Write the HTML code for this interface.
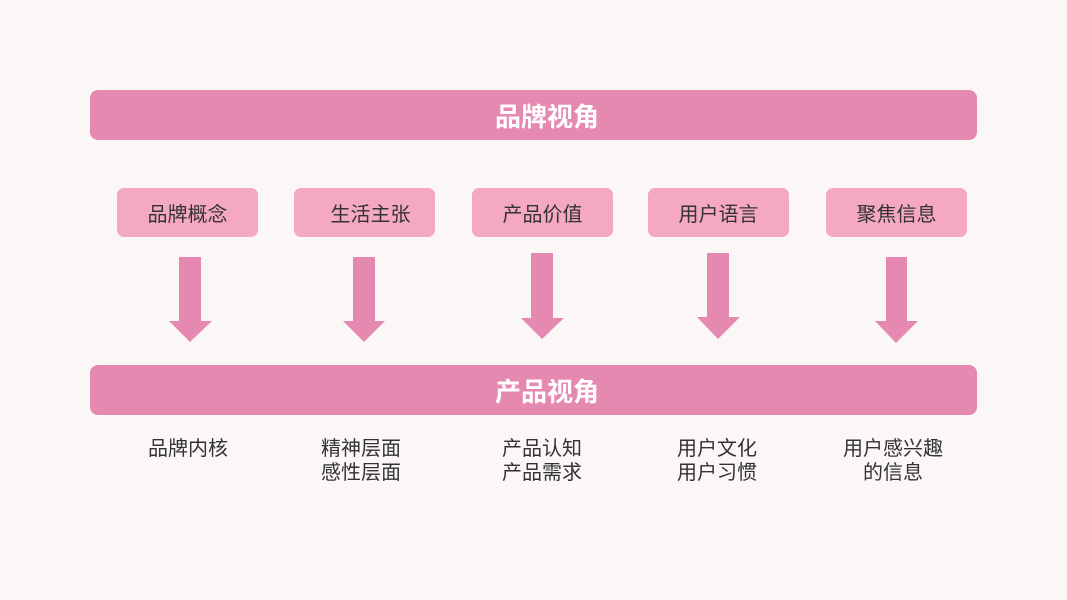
<!DOCTYPE html>
<html><head><meta charset="utf-8"><style>
html,body{margin:0;padding:0;}
body{width:1067px;height:600px;background:#fbf7f6;position:relative;overflow:hidden;font-family:"Liberation Sans","Noto Sans CJK SC",sans-serif;}
.bar{position:absolute;left:90px;width:887px;height:50px;background:#e689b0;border-radius:8px;}
.bar span{position:absolute;left:405px;width:104px;top:2px;line-height:50px;color:#fff;font-size:26px;font-weight:bold;text-align:center;white-space:nowrap;}
.box{position:absolute;top:188px;height:49px;width:141px;background:#f5a9c1;border-radius:7px;color:#333;font-size:20px;text-align:center;}
.box span{position:absolute;left:0;right:0;top:3px;line-height:49px;}
.lbl{position:absolute;top:437px;width:160px;text-align:center;color:#333;font-size:20px;line-height:24px;}
svg{position:absolute;left:0;top:0;}
</style></head><body>
<div class="bar" style="top:90px"><span>品牌视角</span></div>
<div class="bar" style="top:365px"><span>产品视角</span></div>

<div class="box" style="left:117px"><span>品牌概念</span></div>
<div class="box" style="left:294px"><span style="left:12px">生活主张</span></div>
<div class="box" style="left:472px"><span>产品价值</span></div>
<div class="box" style="left:648px"><span>用户语言</span></div>
<div class="box" style="left:826px"><span>聚焦信息</span></div>

<svg width="1067" height="600">
<g fill="#e689b0">
<polygon points="179,257 201,257 201,321 212,321 190,342 169,321 179,321"/>
<polygon points="353,257 375,257 375,321 385,321 364,342 343,321 353,321"/>
<polygon points="531,253 553,253 553,318 564,318 542,339 521,318 531,318"/>
<polygon points="707,253 729,253 729,317 740,317 718,339 697,317 707,317"/>
<polygon points="886,257 907,257 907,321 918,321 896,343 875,321 886,321"/>
</g>
</svg>

<div class="lbl" style="left:108px">品牌内核</div>
<div class="lbl" style="left:281px">精神层面<br>感性层面</div>
<div class="lbl" style="left:462px">产品认知<br>产品需求</div>
<div class="lbl" style="left:637px">用户文化<br>用户习惯</div>
<div class="lbl" style="left:813px">用户感兴趣<br>的信息</div>
</body></html>
